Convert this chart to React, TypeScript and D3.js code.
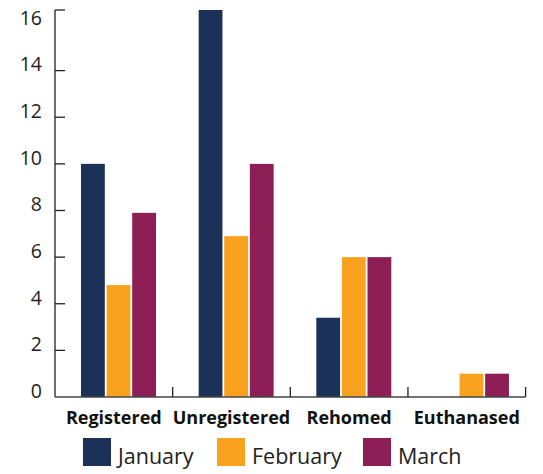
import React from "react";
import * as d3 from "d3";

const categories = ["Registered", "Unregistered", "Rehomed", "Euthanased"];
const seriesNames = ["January", "February", "March"];
const january = [10, 16.6, 3.4, 0];
const february = [4.8, 6.9, 6, 1];
const march = [7.9, 10, 6, 1];
const yTicks = [0, 2, 4, 6, 8, 10, 12, 14, 16];
const colors = ["#1b3158", "#f9a21f", "#8e1e56"];

export default function App() {
  const width = 543, height = 474;
  const left = 55, right = 525.6, top = 10, bottom = 397;
  const values = [january, february, march];
  const y = d3.scaleLinear().domain([0, 16.6]).range([bottom, top]);
  const x0 = d3.scaleBand<string>().domain(categories).range([left, right]).padding(0);
  const x1 = d3.scaleBand<string>().domain(seriesNames).range([26, 101]).paddingInner(0.07);
  const font = "'Open Sans', sans-serif";
  const legendX = [83, 217, 363];
  return (
    <svg width={width} height={height} style={{ position: "absolute", left: 0, top: 0 }}>
      {categories.map((c, ci) =>
        seriesNames.map((s, si) => {
          const v = values[si][ci];
          if (!v) return null;
          return (
            <rect key={c + s} x={(x0(c) ?? 0) + (x1(s) ?? 0)} y={y(v)} width={x1.bandwidth()}
              height={bottom - y(v)} fill={colors[si]} />
          );
        })
      )}
      {/* y axis */}
      <line x1={left} x2={left} y1={top} y2={bottom} stroke="#222" strokeWidth={1.3} />
      <line x1={left} x2={left + 10} y1={top} y2={top} stroke="#222" strokeWidth={1.3} />
      {yTicks.map((t) => (
        <g key={t}>
          {t > 0 && t < 16 && (
            <line x1={left} x2={left + 10} y1={y(t)} y2={y(t)} stroke="#222" strokeWidth={1.3} />
          )}
          <text x={42} y={y(t) - 6} dy="0.35em" textAnchor="end" fontFamily={font} fontWeight={400}
            fontSize={19.5} fill="#222">{t}</text>
        </g>
      ))}
      {/* x axis */}
      <line x1={left} x2={right} y1={bottom} y2={bottom} stroke="#444" strokeWidth={1.3} />
      {categories.map((c) => (
        <line key={c} x1={(x0(c) ?? 0) + x0.bandwidth()} x2={(x0(c) ?? 0) + x0.bandwidth()}
          y1={bottom - 10} y2={bottom} stroke="#222" strokeWidth={1.3} />
      ))}
      {categories.map((c) => (
        <text key={c} x={(x0(c) ?? 0) + x0.bandwidth() / 2} y={423.5} textAnchor="middle"
          fontFamily={font} fontWeight={700} fontSize={18} fill="#111">{c}</text>
      ))}
      {/* legend */}
      {seriesNames.map((s, i) => (
        <g key={s}>
          <rect x={legendX[i]} y={438} width={28} height={28} fill={colors[i]} />
          <text x={legendX[i] + 35} y={464} fontFamily={font} fontWeight={400} fontSize={21.5}
            fill="#222">{s}</text>
        </g>
      ))}
    </svg>
  );
}
